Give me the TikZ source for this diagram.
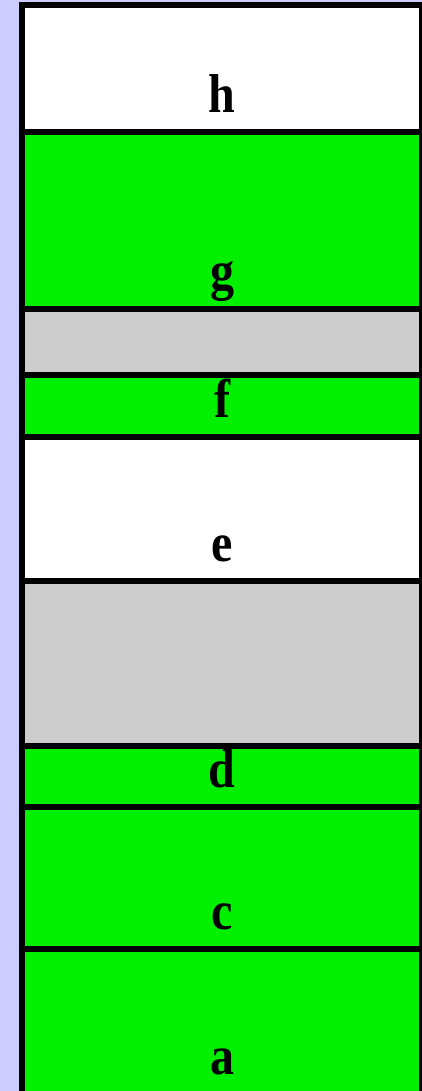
\documentclass[tikz,border=0pt]{standalone}
\usepackage{fontspec}
\setmainfont{Liberation Serif}
\usepackage{graphicx}
\definecolor{stackbg}{HTML}{CCCCFF}
\definecolor{stackgreen}{HTML}{00F000}
\definecolor{stackgray}{HTML}{CCCCCC}
\newcommand{\tallbox}[1]{\scalebox{1}[1.14]{#1}}

\begin{document}
\begin{tikzpicture}[x=1pt,y=-1pt]
    \tikzstyle{slot}=[draw=black,line width=6pt]
    \tikzstyle{tag}=[anchor=base,inner sep=0pt,font=\fontsize{48}{48}\selectfont\bfseries]
    \fill[stackbg] (0,0) rectangle (422,1091);
    \useasboundingbox (0,0) rectangle (422,1091);
    \foreach \ytop/\ybot/\col/\txt [count=\i] in {5/132.5/white/h, 132.5/309/stackgreen/g, 309/375/stackgray/{}, 375/437/stackgreen/f, 437/581/white/e, 581/746/stackgray/{}, 746/807/stackgreen/d, 807/949/stackgreen/c, 949/1094/stackgreen/a}{
        \filldraw[slot,fill=\col] (22,\ytop) rectangle (422,\ybot);
        \node[tag] (tag\i) at (222,\ybot-20) {\tallbox{\txt}};
    }
\end{tikzpicture}
\end{document}
